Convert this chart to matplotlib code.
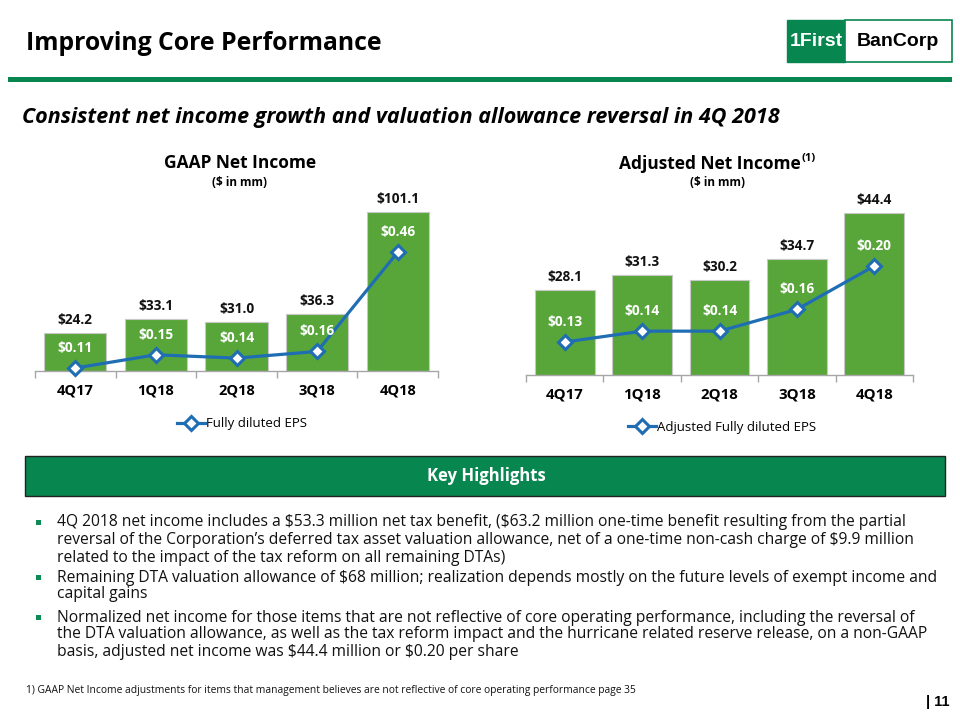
import matplotlib
matplotlib.use('Agg')
import matplotlib.pyplot as plt
from matplotlib.patches import Rectangle
from matplotlib.lines import Line2D

plt.rcParams['text.parse_math'] = False
plt.rcParams['font.family'] = ['Open Sans', 'DejaVu Sans']

# ---------------- data ----------------
quarters = ['4Q17', '1Q18', '2Q18', '3Q18', '4Q18']
gaap_income = [24.2, 33.1, 31.0, 36.3, 101.1]
gaap_eps = [0.11, 0.15, 0.14, 0.16, 0.46]
adj_income = [28.1, 31.3, 30.2, 34.7, 44.4]
adj_eps = [0.13, 0.14, 0.14, 0.16, 0.20]

page_title = 'Improving Core Performance'
subtitle = 'Consistent net income growth and valuation allowance reversal in 4Q 2018'
left_title = 'GAAP Net Income'
right_title = 'Adjusted Net Income'
units = '($ in mm)'
left_legend = 'Fully diluted EPS'
right_legend = 'Adjusted Fully diluted EPS'
box_title = 'Key Highlights'
bullets = [
    ['4Q 2018 net income includes a $53.3 million net tax benefit, ($63.2 million one-time benefit resulting from the partial',
     'reversal of the Corporation\u2019s deferred tax asset valuation allowance, net of a one-time non-cash charge of $9.9 million',
     'related to the impact of the tax reform on all remaining DTAs)'],
    ['Remaining DTA valuation allowance of $68 million; realization depends mostly on the future levels of exempt income and',
     'capital gains'],
    ['Normalized net income for those items that are not reflective of core operating performance, including the reversal of',
     'the DTA valuation allowance, as well as the tax reform impact and the hurricane related reserve release, on a non-GAAP',
     'basis, adjusted net income was $44.4 million or $0.20 per share'],
]
footnote = '1) GAAP Net Income adjustments for items that management believes are not reflective of core operating performance page 35'
page_no = '| 11'

# ---------------- style ----------------
BAR_GREEN = '#58A63A'
DARK_GREEN = '#07864F'
BLUE = '#1F6EB4'
GRAY = '#A6A6A6'

W, H = 960, 720
fig = plt.figure(figsize=(9.6, 7.2), dpi=100)


def fx(x):
    return x / W


def fy(y):
    return 1 - y / H


def T(x, y, s, **kw):
    return fig.text(fx(x), fy(y), s, **kw)


def rect(x0, y0, x1, y1, **kw):
    r = Rectangle((fx(x0), fy(y1)), (x1 - x0) / W, (y1 - y0) / H,
                  transform=fig.transFigure, **kw)
    fig.add_artist(r)
    return r


# ---------------- header ----------------
T(26, 43, page_title, fontsize=17.8, fontweight='bold', ha='left', va='center')
rect(8, 77, 952, 82, facecolor=DARK_GREEN, edgecolor='none')
rect(787, 20, 845, 62, facecolor=DARK_GREEN, edgecolor=DARK_GREEN, lw=1)
rect(845, 20, 952, 62, facecolor='white', edgecolor=DARK_GREEN, lw=1.2)
T(816, 41, '1First', fontsize=14, fontweight='bold', color='white', ha='center', va='center',
  family=['Liberation Sans', 'DejaVu Sans'])
T(898, 41, 'BanCorp', fontsize=14, fontweight='bold', color='black', ha='center', va='center',
  family=['Liberation Sans', 'DejaVu Sans'])
T(22, 118, subtitle, fontsize=15.5, fontweight='bold', style='italic', ha='left', va='center')


# ---------------- charts ----------------
def draw_chart(box, values, eps, ylim, eps_lim, bar_w, legend_label, legend_xy, tick_fs):
    x0, y0, x1, y1 = box
    ax = fig.add_axes([fx(x0), fy(y1), (x1 - x0) / W, (y1 - y0) / H])
    idx = list(range(len(quarters)))
    ax.bar(idx, values, width=bar_w, color=BAR_GREEN, edgecolor='#C8C8C8', linewidth=0.8, zorder=2)
    ax.set_xlim(-0.5, len(quarters) - 0.5)
    ax.set_ylim(*ylim)
    for i, v in enumerate(values):
        ax.annotate(f'${v:.1f}', (i, v), xytext=(0, 9.5), textcoords='offset points',
                    ha='center', va='center', fontsize=9.8, fontweight='bold', color='#111111')
    for s in ['left', 'right', 'top']:
        ax.spines[s].set_visible(False)
    ax.spines['bottom'].set_color(GRAY)
    ax.spines['bottom'].set_linewidth(1)
    ax.set_yticks([])
    ax.set_xticks(idx)
    ax.set_xticklabels(quarters, fontsize=tick_fs, fontweight='bold')
    ax.set_xticks([i - 0.5 for i in range(len(quarters) + 1)], minor=True)
    ax.tick_params(axis='x', which='major', length=0, pad=9)
    ax.tick_params(axis='x', which='minor', length=5, color=GRAY, width=1)
    ax.patch.set_alpha(0)

    ax2 = ax.twinx()
    ax2.set_ylim(*eps_lim)
    ax2.set_yticks([])
    for s in ax2.spines.values():
        s.set_visible(False)
    ln, = ax2.plot(idx, eps, color=BLUE, lw=2.3, marker='D', ms=7.5, mfc='white',
                   mec=BLUE, mew=2.2, zorder=3, clip_on=False)
    for i, v in enumerate(eps):
        ax2.annotate(f'${v:.2f}', (i, v), xytext=(0, 14.4), textcoords='offset points',
                     ha='center', va='center', fontsize=9.8, fontweight='bold', color='white')
    fig.legend([ln], [legend_label], loc='center', bbox_to_anchor=(fx(legend_xy[0]), fy(legend_xy[1])),
               frameon=False, fontsize=9.5, handlelength=2.1, handletextpad=0.1,
               borderaxespad=0, borderpad=0)
    return ax


draw_chart((35, 190, 438, 371), gaap_income, gaap_eps, (0, 115.1), (0.101, 0.648), 0.77,
           left_legend, (242, 424), 10.5)
draw_chart((526, 190, 913, 375), adj_income, adj_eps, (10.1, 49.26), (0.0996, 0.27), 0.775,
           right_legend, (722, 427), 10.8)

T(240, 163, left_title, fontsize=12.5, fontweight='bold', ha='center', va='center')
T(240, 183, units, fontsize=8.5, fontweight='bold', ha='center', va='center')
rt = T(710, 164, right_title, fontsize=12.5, fontweight='bold', ha='center', va='center')
fig.canvas.draw()
bb = rt.get_window_extent(fig.canvas.get_renderer())
fig.text(bb.x1 / W + 0.001, fy(158), '(1)', fontsize=8, fontweight='bold', ha='left', va='center')
T(718, 183, units, fontsize=8.5, fontweight='bold', ha='center', va='center')

# ---------------- key highlights ----------------
rect(25, 456, 945, 496, facecolor=DARK_GREEN, edgecolor='#222222', lw=1)
T(486, 476, box_title, fontsize=12, fontweight='bold', color='white', ha='center', va='center')

line_y = [[522, 540, 557], [577, 594], [617, 634, 651]]
for lines, ys in zip(bullets, line_y):
    rect(36, ys[0] - 2.5, 41, ys[0] + 2.5, facecolor='#0E8A55', edgecolor='none')
    for s, y in zip(lines, ys):
        T(57, y + 4.5, s, fontsize=11.25, ha='left', va='baseline', color='#111111')

T(26, 691, footnote, fontsize=7.4, ha='left', va='center', color='#111111')
T(949, 702, page_no, fontsize=10.5, fontweight='bold', ha='right', va='center',
  family=['Liberation Sans', 'DejaVu Sans'])

fig.savefig('out.png', dpi=100)
